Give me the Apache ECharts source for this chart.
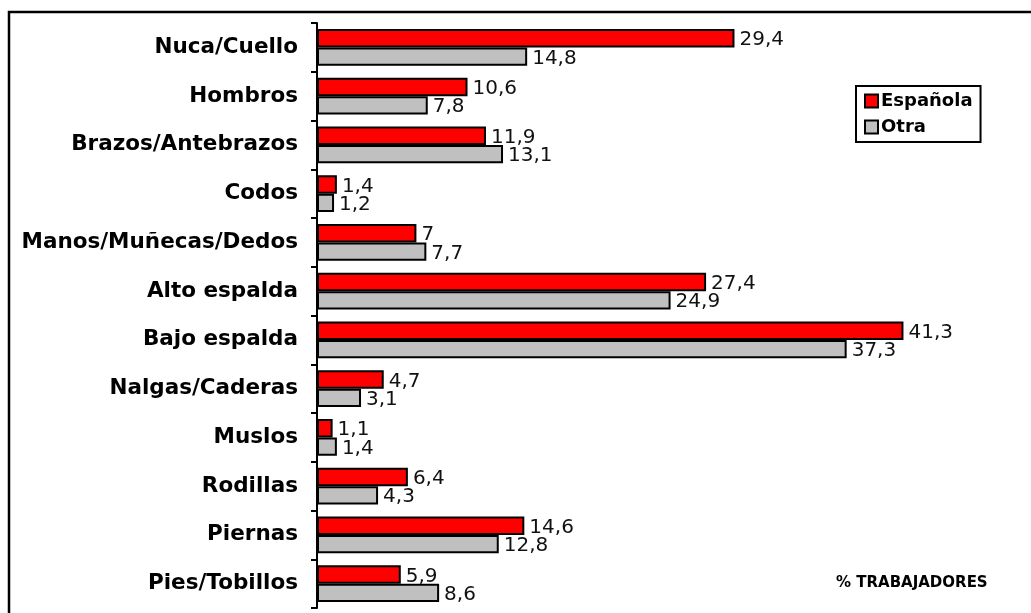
<!DOCTYPE html>
<html>
<head>
<meta charset="utf-8">
<title>Zonas corporales</title>
<script src="https://cdn.jsdelivr.net/npm/echarts@6/dist/echarts.min.js"></script>
<style>
  html, body { margin: 0; padding: 0; background: #fff; }
  #chart { width: 1031px; height: 613px; }
</style>
</head>
<body>
<div id="chart"></div>
<script>
// zonas del cuerpo (de arriba a abajo)
const categories = ['Nuca/Cuello', 'Hombros', 'Brazos/Antebrazos', 'Codos', 'Manos/Muñecas/Dedos',
  'Alto espalda', 'Bajo espalda', 'Nalgas/Caderas', 'Muslos', 'Rodillas', 'Piernas', 'Pies/Tobillos']
const espanola = [29.4, 10.6, 11.9, 1.4, 7, 27.4, 41.3, 4.7, 1.1, 6.4, 14.6, 5.9]
const otra = [14.8, 7.8, 13.1, 1.2, 7.7, 24.9, 37.3, 3.1, 1.4, 4.3, 12.8, 8.6]

const font = 'DejaVu Sans, Verdana, sans-serif'

const chart = echarts.init(document.getElementById('chart'))

// etiqueta con coma decimal
const label = {
  show: true,
  position: 'right',
  distance: 5,
  offset: [0, 2],
  color: '#111',
  fontFamily: font,
  fontSize: 20,
  formatter: p => String(p.value).replace('.', ',')
}

chart.setOption({
  animation: false,
  graphic: [
    {
      type: 'rect',
      shape: { x: 9, y: 12, width: 1100, height: 700 },
      style: { fill: 'none', stroke: '#000', lineWidth: 2.5 },
      z: -1
    },
    {
      type: 'text',
      left: 836,
      top: 576,
      style: { text: '% TRABAJADORES', fill: '#000', font: 'bold 15px ' + font }
    }
  ],
  legend: {
    orient: 'vertical',
    left: 856,
    top: 86,
    padding: [6, 8, 6, 8],
    itemWidth: 13,
    itemHeight: 13,
    itemGap: 8,
    borderColor: '#000',
    borderWidth: 2,
    icon: 'rect',
    textStyle: { fontFamily: font, fontSize: 18, fontWeight: 'bold', color: '#000', padding: [0, 0, 0, -2] },
    data: ['Española', 'Otra']
  },
  grid: {
    left: 317,
    right: 4,
    top: 23,
    bottom: 5
  },
  xAxis: {
    type: 'value',
    min: 0,
    max: 50,
    show: false
  },
  yAxis: {
    type: 'category',
    data: categories,
    inverse: true,
    axisLine: { lineStyle: { color: '#000', width: 2 } },
    axisTick: { show: true, length: 6, interval: 0, lineStyle: { color: '#000', width: 2 } },
    axisLabel: {
      interval: 0,
      margin: 19,
      color: '#000',
      fontFamily: font,
      fontSize: 21.5,
      fontWeight: 'bold'
    },
    splitLine: { show: false }
  },
  series: [
    {
      name: 'Española',
      type: 'bar',
      data: espanola,
      barGap: '0%',
      barCategoryGap: '25%',
      itemStyle: { color: '#ff0000', borderColor: '#000', borderWidth: 2 },
      label: label
    },
    {
      name: 'Otra',
      type: 'bar',
      data: otra,
      itemStyle: { color: '#c0c0c0', borderColor: '#000', borderWidth: 2 },
      label: label
    }
  ]
})
</script>
</body>
</html>
